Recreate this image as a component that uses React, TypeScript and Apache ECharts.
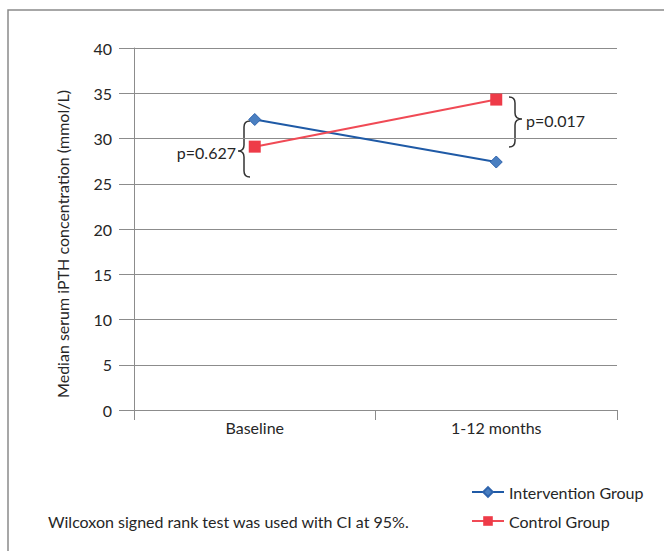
import React, { useEffect, useRef } from "react";
import * as echarts from "echarts";

const categories = ["Baseline", "1-12 months"];
const interventionValues = [32.1, 27.4];
const controlValues = [29.1, 34.3];
const seriesNames = ["Intervention Group", "Control Group"];
const yTitle = "Median serum iPTH concentration (mmol/L)";
const footnote = "Wilcoxon signed rank test was used with CI at 95%.";
const pLabels = ["p=0.627", "p=0.017"];

const FONT = "Lato, 'Open Sans', sans-serif";
const FS = 16;

echarts.graphic.registerShape(
  "braceL",
  echarts.graphic.extendPath(
    "M250,121 Q244,121 244,127 L244,145 Q244,151 238,151 Q244,151 244,157 L244,171 Q244,177 250,177",
    {}
  ) as any
);
echarts.graphic.registerShape(
  "braceR",
  echarts.graphic.extendPath(
    "M509,97 Q515,97 515,103 L515,113 Q515,119 522,119 Q515,119 515,125 L515,141 Q515,147 509,147",
    {}
  ) as any
);

export default function App() {
  const ref = useRef<HTMLDivElement>(null);
  useEffect(() => {
    const chart = echarts.init(ref.current!, null, { renderer: "svg" });
    const axisGray = "#8c8c8c";
    chart.setOption({
      animation: false,
      textStyle: { fontFamily: FONT },
      grid: { left: 134, right: 47, top: 48, bottom: 141 },
      xAxis: {
        type: "category",
        data: categories,
        boundaryGap: true,
        axisLine: { lineStyle: { color: axisGray, width: 1 } },
        axisTick: { show: true, length: 10, lineStyle: { color: axisGray } },
        axisLabel: { color: "#262626", fontSize: FS, fontFamily: FONT, margin: 9 },
      },
      yAxis: {
        type: "value",
        min: 0,
        max: 40,
        interval: 5,
        axisLine: { show: true, lineStyle: { color: axisGray, width: 1 } },
        axisTick: { show: true, length: 15, lineStyle: { color: axisGray } },
        axisLabel: { color: "#262626", fontSize: FS, fontFamily: FONT, margin: 22 },
        splitLine: { show: true, lineStyle: { color: axisGray, width: 1 } },
      },
      legend: {
        orient: "vertical",
        left: 471,
        top: 484,
        padding: 0,
        itemWidth: 32,
        itemHeight: 12,
        itemGap: 13,
        textStyle: { color: "#262626", fontSize: FS, fontFamily: FONT },
        data: seriesNames,
      },
      series: [
        {
          name: seriesNames[0],
          type: "line",
          data: interventionValues,
          symbol: "diamond",
          symbolSize: 12,
          lineStyle: { color: "#1f5aa6", width: 2 },
          itemStyle: { color: "#4a7fc1", borderColor: "#2f64ad", borderWidth: 1 },
        },
        {
          name: seriesNames[1],
          type: "line",
          data: controlValues,
          symbol: "rect",
          symbolSize: 12,
          lineStyle: { color: "#f04a55", width: 2 },
          itemStyle: { color: "#ee3b48" },
        },
      ],
      graphic: [
        {
          type: "polyline",
          shape: { points: [[8, 700], [8, 10], [700, 10]] },
          style: { stroke: "#8a8a8a", lineWidth: 1.5, fill: "none" },
          silent: true,
        },
        {
          type: "text",
          x: 62,
          y: 244,
          rotation: Math.PI / 2,
          style: {
            text: yTitle,
            fontSize: FS,
            fontFamily: FONT,
            fill: "#262626",
            align: "center",
            verticalAlign: "middle",
          },
        },
        {
          type: "text",
          x: 48,
          y: 521,
          style: {
            text: footnote,
            fontSize: FS,
            fontFamily: FONT,
            fill: "#262626",
            align: "left",
            verticalAlign: "middle",
          },
        },
        { type: "braceL", style: { fill: "none", stroke: "#333", lineWidth: 1.5 } },
        { type: "braceR", style: { fill: "none", stroke: "#333", lineWidth: 1.5 } },
        {
          type: "text",
          x: 236,
          y: 152,
          style: {
            text: pLabels[0],
            fontSize: FS,
            fontFamily: FONT,
            fill: "#262626",
            align: "right",
            verticalAlign: "middle",
          },
        },
        {
          type: "text",
          x: 526,
          y: 120,
          style: {
            text: pLabels[1],
            fontSize: FS,
            fontFamily: FONT,
            fill: "#262626",
            align: "left",
            verticalAlign: "middle",
          },
        },
      ],
    });
    return () => chart.dispose();
  }, []);
  return <div ref={ref} style={{ width: 664, height: 551, position: "absolute", left: 0, top: 0 }} />;
}
